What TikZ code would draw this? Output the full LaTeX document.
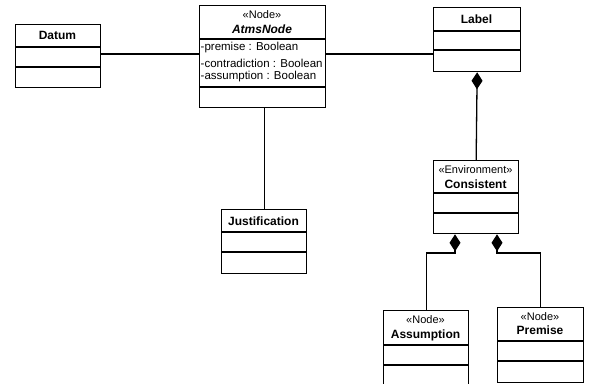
\documentclass[tikz,border=0pt]{standalone}
\usepackage{fontspec}
\setmainfont{Liberation Sans}
\usetikzlibrary{arrows.meta}

\tikzset{
  cls/.style={draw, line width=1.3pt, inner sep=0pt, anchor=north west},
  clsname/.style={font=\fontsize{12}{14}\selectfont\bfseries, inner sep=0pt},
  stereo/.style={font=\fontsize{11}{13}\selectfont, inner sep=0pt},
  attr/.style={font=\fontsize{11.5}{13}\selectfont, anchor=west, inner sep=0pt},
  divider/.style={line width=1.1pt},
  assoc/.style={line width=1.3pt},
  comp/.style={line width=1.3pt, -{Diamond[length=17pt,width=11pt]}},
}

\begin{document}
\begin{tikzpicture}[x=1pt,y=-1pt]
\useasboundingbox (0,0) rectangle (604,383);

% Datum
\node[cls, minimum width=85pt, minimum height=63pt] (datum) at (15,24) {};
\draw[divider] (15,47) -- (100,47);
\draw[divider] (15,67) -- (100,67);
\node[clsname] at (57.5,35.5) {Datum};

% AtmsNode
\node[cls, minimum width=126pt, minimum height=102pt] (atms) at (199,5) {};
\draw[divider] (199,39) -- (325,39);
\draw[divider] (199,87) -- (325,87);
\node[stereo] at (262,15) {«Node»};
\node[clsname, font=\fontsize{12}{14}\selectfont\bfseries\itshape] at (262,29) {AtmsNode};
\node[attr] at (200.5,48) {-premise : Boolean};
\node[attr] at (200.5,63) {-contradiction : Boolean};
\node[attr] at (200.5,77) {-assumption : Boolean};

% Label
\node[cls, minimum width=87pt, minimum height=64pt] (label) at (433,7) {};
\draw[divider] (433,31) -- (520,31);
\draw[divider] (433,50) -- (520,50);
\node[clsname] at (476.5,19) {Label};

% Justification
\node[cls, minimum width=85pt, minimum height=64pt] (just) at (221,209) {};
\draw[divider] (221,232) -- (306,232);
\draw[divider] (221,252) -- (306,252);
\node[clsname] at (263.5,221) {Justification};

% Consistent
\node[cls, minimum width=85pt, minimum height=73pt] (cons) at (433,160) {};
\draw[divider] (433,193) -- (518,193);
\draw[divider] (433,213) -- (518,213);
\node[stereo] at (475.5,170) {«Environment»};
\node[clsname] at (475.5,184) {Consistent};

% Assumption
\node[cls, minimum width=85pt, minimum height=80pt] (assum) at (383,310) {};
\draw[divider] (383,345) -- (468,345);
\draw[divider] (383,365) -- (468,365);
\node[stereo] at (425.5,320) {«Node»};
\node[clsname] at (425.5,335) {Assumption};

% Premise
\node[cls, minimum width=86pt, minimum height=75pt] (prem) at (497,307) {};
\draw[divider] (497,341) -- (583,341);
\draw[divider] (497,361) -- (583,361);
\node[stereo] at (540,317) {«Node»};
\node[clsname] at (540,330) {Premise};

% connectors
\coordinate (cl) at (455,253);
\coordinate (cr) at (497,253);
\draw[assoc] (datum.east |- 0,54) -- (atms.west |- 0,54);
\draw[assoc] (atms.east |- 0,54) -- (label.west |- 0,54);
\draw[assoc] (atms.south -| just.north) -- (just.north);
\draw[comp] (cons.north) -- (label.south);
\draw[comp] (assum.north) |- (cl) -- (cl |- cons.south);
\draw[comp] (prem.north) |- (cr) -- (cr |- cons.south);

\end{tikzpicture}
\end{document}
